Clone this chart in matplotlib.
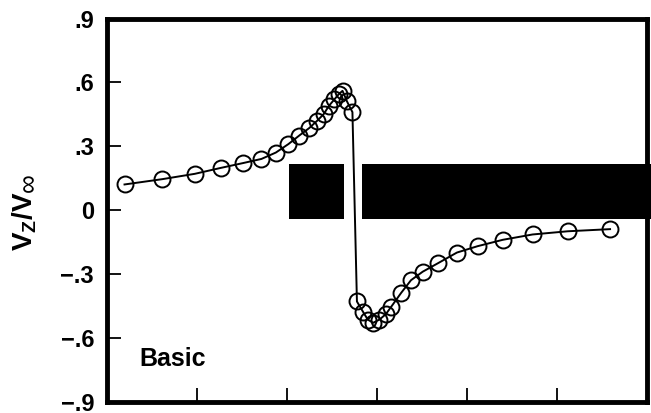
import matplotlib

matplotlib.use("Agg")
import matplotlib.pyplot as plt
from matplotlib.patches import Rectangle

# Axial velocity ratio along the survey station
station = [0.20, 0.62, 0.98, 1.27, 1.51, 1.72, 1.88, 2.02, 2.14, 2.25,
           2.34, 2.41, 2.47, 2.53, 2.58, 2.62, 2.67, 2.73,
           2.78, 2.85, 2.90, 2.96, 3.03, 3.10, 3.16, 3.27, 3.38,
           3.51, 3.68, 3.89, 4.12, 4.40, 4.73, 5.12, 5.59]
vz_ratio = [0.12, 0.145, 0.17, 0.198, 0.22, 0.24, 0.27, 0.31, 0.35, 0.385,
            0.42, 0.45, 0.49, 0.52, 0.545, 0.56, 0.51, 0.46,
            -0.43, -0.48, -0.515, -0.53, -0.515, -0.49, -0.455, -0.39, -0.33,
            -0.29, -0.25, -0.20, -0.17, -0.14, -0.115, -0.10, -0.09]

y_ticks = [-0.9, -0.6, -0.3, 0.0, 0.3, 0.6, 0.9]
y_tick_labels = ["\u2212.9", "\u2212.6", "\u2212.3", "0", ".3", ".6", ".9"]
x_ticks = [1, 2, 3, 4, 5]

# blocks marking the body cross-section: (x start, x end, y bottom, y top)
blocks = [(2.03, 2.64, -0.042, 0.216), (2.84, 6.2, -0.042, 0.216)]

plt.rcParams["font.family"] = ["Liberation Sans", "DejaVu Sans"]

W, H = 651, 413
fig = plt.figure(figsize=(W / 100, H / 100), dpi=100)
ax = fig.add_axes([106.5 / W, 1 - 401.5 / H, (647 - 106.5) / W, (401.5 - 18.5) / H])

for x0, x1, y0, y1 in blocks:
    ax.add_patch(Rectangle((x0, y0), x1 - x0, y1 - y0, facecolor="black",
                           edgecolor="none", clip_on=False, zorder=1))

ax.plot(station, vz_ratio, color="black", linewidth=1.4, marker="o",
        markersize=11.5, markerfacecolor="none", markeredgecolor="black",
        markeredgewidth=1.4, zorder=3)

ax.set_xlim(0, 6)
ax.set_ylim(-0.9, 0.9)
ax.set_xticks(x_ticks)
ax.set_xticklabels([])
ax.set_yticks(y_ticks)
ax.set_yticklabels(y_tick_labels, fontsize=17, fontweight="bold")
ax.tick_params(axis="both", direction="in", length=10, width=1.3, pad=9)
for spine in ax.spines.values():
    spine.set_linewidth(3.5)

# axis title drawn in two pieces so the infinity sign keeps full size
fig.text(25 / W, 1 - 251 / H, r"$\mathregular{V_Z/V}$", fontsize=20,
         fontweight="bold", rotation=90, ha="center", va="bottom")
fig.text(29 / W, 1 - 192 / H, "\u221e", fontsize=19, rotation=90,
         ha="center", va="bottom")

ax.text(0.37, -0.70, "Basic", fontsize=18, fontweight="bold",
        ha="left", va="center")

fig.savefig("out.png", dpi=100)
plt.close(fig)
